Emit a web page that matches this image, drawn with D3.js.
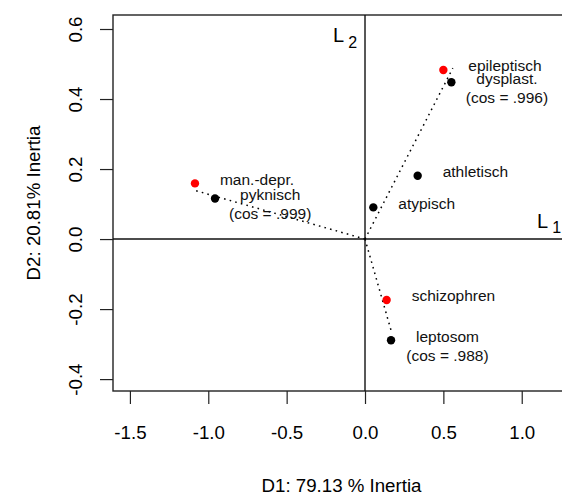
<!DOCTYPE html>
<html>
<head>
<meta charset="utf-8">
<script src="https://cdn.jsdelivr.net/npm/d3@7"></script>
<style>
  html, body { margin: 0; padding: 0; background: #fff; }
  svg { display: block; font-family: "Liberation Sans", Arial, sans-serif; }
</style>
</head>
<body>
<svg id="chart" width="562" height="496"></svg>
<script>
// Diagnoses (row profiles, red)
const rowNames = ["man.-depr.", "schizophren", "epileptisch"];
const rowX = [-1.085, 0.138, 0.500];
const rowY = [0.159, -0.174, 0.483];

// Body types (column profiles, black)
const colNames = ["pyknisch", "leptosom", "athletisch", "dysplast.", "atypisch"];
const colX = [-0.957, 0.166, 0.336, 0.551, 0.053];
const colY = [0.116, -0.289, 0.181, 0.448, 0.0905];

// Paired row/column directions drawn from the origin, with their cosines
const pairRow = [0, 1, 2];
const pairCol = [0, 1, 3];
const pairEndX = [-1.078, 0.170, 0.560];
const pairEndY = [0.138, -0.267, 0.488];
const pairCos = [".999", ".988", ".996"];

// Axis ticks
const xTicks = [-1.5, -1.0, -0.5, 0.0, 0.5, 1.0];
const yTicks = [-0.4, -0.2, 0.0, 0.2, 0.4, 0.6];

const xTitle = "D1: 79.13 % Inertia";
const yTitle = "D2: 20.81% Inertia";

const svg = d3.select("#chart");
const plot = { left: 113, right: 570, top: 15, bottom: 391 };

const x = d3.scaleLinear().domain([-1.608, 1.308]).range([plot.left, plot.right]);
const y = d3.scaleLinear().domain([-0.434, 0.64]).range([plot.bottom, plot.top]);

// one decimal, plain hyphen for negatives
const fmt = d => d.toFixed(1);

// Plot frame
svg.append("rect")
  .attr("x", plot.left).attr("y", plot.top)
  .attr("width", plot.right - plot.left).attr("height", plot.bottom - plot.top)
  .attr("fill", "none").attr("stroke", "#222").attr("stroke-width", 1.4);

// Bottom axis
const xAxis = svg.append("g")
  .attr("transform", `translate(0,${plot.bottom})`)
  .call(d3.axisBottom(x).tickValues(xTicks).tickFormat(fmt).tickSize(13).tickPadding(22));
xAxis.select(".domain").remove();
xAxis.selectAll(".tick line").attr("stroke", "#222").attr("stroke-width", 1.2);
xAxis.selectAll(".tick text")
  .attr("font-size", 18.7).attr("fill", "#000")
  .attr("font-family", "Liberation Sans, Arial, sans-serif");

// Left axis, labels turned parallel to the axis
const yAxis = svg.append("g")
  .attr("transform", `translate(${plot.left},0)`)
  .call(d3.axisLeft(y).tickValues(yTicks).tickFormat(fmt).tickSize(13));
yAxis.select(".domain").remove();
yAxis.selectAll(".tick line").attr("stroke", "#222").attr("stroke-width", 1.2);
yAxis.selectAll(".tick text").remove();
yAxis.selectAll(".tick").append("text")
  .attr("transform", `translate(${82 - plot.left},0) rotate(-90)`)
  .attr("text-anchor", "middle")
  .attr("font-size", 18.7).attr("fill", "#000")
  .attr("font-family", "Liberation Sans, Arial, sans-serif")
  .text(d => fmt(d));

// Axis titles
svg.append("text")
  .attr("x", (plot.left + plot.right) / 2).attr("y", 492)
  .attr("text-anchor", "middle").attr("font-size", 18.7)
  .text(xTitle);
svg.append("text")
  .attr("transform", `translate(40,${(plot.top + plot.bottom) / 2}) rotate(-90)`)
  .attr("text-anchor", "middle").attr("font-size", 18.7)
  .text(yTitle);

// Principal axes through the origin
svg.append("defs").append("clipPath").attr("id", "plotclip")
  .append("rect").attr("x", plot.left).attr("y", plot.top)
  .attr("width", plot.right - plot.left).attr("height", plot.bottom - plot.top);

const inner = svg.append("g").attr("clip-path", "url(#plotclip)");
inner.append("line")
  .attr("x1", plot.left).attr("x2", plot.right)
  .attr("y1", y(0)).attr("y2", y(0))
  .attr("stroke", "#111").attr("stroke-width", 1.4);
inner.append("line")
  .attr("x1", x(0)).attr("x2", x(0))
  .attr("y1", plot.top).attr("y2", plot.bottom)
  .attr("stroke", "#111").attr("stroke-width", 1.4);

// Axis names L1 / L2
const l2 = svg.append("text").attr("x", x(0) - 32).attr("y", 42).attr("font-size", 20);
l2.append("tspan").text("L");
l2.append("tspan").attr("dx", 4).attr("dy", 6).attr("font-size", 16).text("2");
const l1 = svg.append("text").attr("x", 537).attr("y", y(0) - 11).attr("font-size", 20);
l1.append("tspan").text("L");
l1.append("tspan").attr("dx", 4).attr("dy", 5).attr("font-size", 16).text("1");

// Dotted directions for the paired profiles
inner.selectAll("line.pair")
  .data(pairCos.map((c, i) => ({ ex: pairEndX[i], ey: pairEndY[i] })))
  .join("line").attr("class", "pair")
  .attr("x1", x(0)).attr("y1", y(0))
  .attr("x2", d => x(d.ex)).attr("y2", d => y(d.ey))
  .attr("stroke", "#000").attr("stroke-width", 1.5)
  .attr("stroke-dasharray", "1.6,4.2");

// Points
const rows = rowNames.map((n, i) => ({ name: n, x: rowX[i], y: rowY[i] }));
const cols = colNames.map((n, i) => ({ name: n, x: colX[i], y: colY[i] }));

svg.selectAll("circle.row").data(rows).join("circle").attr("class", "row")
  .attr("cx", d => x(d.x)).attr("cy", d => y(d.y)).attr("r", 4.2).attr("fill", "#f00");
svg.selectAll("circle.col").data(cols).join("circle").attr("class", "col")
  .attr("cx", d => x(d.x)).attr("cy", d => y(d.y)).attr("r", 4.2).attr("fill", "#000");

// Point labels, set to the right of each point
const labelGap = 25;
const labelFont = 15.5;
const allLabels = rows.concat(cols);
const labelSel = svg.selectAll("text.plabel").data(allLabels).join("text")
  .attr("class", "plabel")
  .attr("x", d => x(d.x) + labelGap).attr("y", d => y(d.y) + 1.5)
  .attr("font-size", labelFont).attr("fill", "#111")
  .text(d => d.name);

// Cosine notes centred beneath the body-type label of each pair
pairCos.forEach((c, i) => {
  const col = cols[pairCol[i]];
  const node = labelSel.filter(d => d === col).node();
  const w = node.getComputedTextLength();
  svg.append("text")
    .attr("x", x(col.x) + labelGap + w / 2)
    .attr("y", y(col.y) + 1.5 + 19)
    .attr("text-anchor", "middle")
    .attr("font-size", labelFont).attr("fill", "#111")
    .text(`(cos = ${c})`);
});
</script>
</body>
</html>
